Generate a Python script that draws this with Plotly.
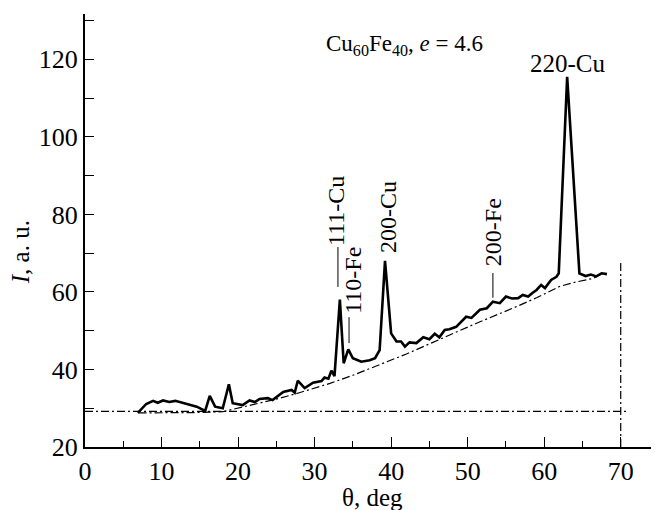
import plotly.graph_objects as go

# Measured diffraction curve
theta = [6.9, 8.0, 8.9, 9.5, 10.2, 11.0, 11.8, 12.5, 13.5, 14.6, 15.7, 16.3, 17.0, 18.0, 18.8, 19.3,
         20.6, 21.5, 22.2, 22.8, 23.9, 24.5, 25.9, 27.0, 27.4, 27.8, 28.7, 29.8, 30.9, 31.3, 31.8,
         32.2, 32.6, 33.3, 33.8, 34.4, 35.0, 36.1, 37.2, 37.9, 38.5, 39.2, 40.0, 40.7, 41.3, 41.8,
         42.4, 43.3, 44.2, 45.0, 45.7, 46.3, 47.0, 47.6, 48.5, 49.8, 50.5, 51.6, 52.5, 53.3, 54.2,
         55.0, 55.8, 56.6, 57.2, 57.9, 58.5, 59.0, 59.6, 60.1, 60.9, 61.6, 61.9, 63.0, 64.6, 65.4,
         66.1, 66.8, 67.5, 68.2]
intensity = [28.8, 31.1, 31.9, 31.4, 32.0, 31.6, 31.9, 31.5, 31.0, 30.4, 29.3, 33.2, 30.4, 30.0, 36.2, 31.3,
             30.8, 32.0, 31.6, 32.4, 32.6, 32.1, 34.2, 34.7, 34.0, 37.1, 35.2, 36.6, 37.0, 37.9, 37.6,
             39.7, 38.3, 58.0, 41.6, 45.2, 42.9, 42.0, 42.4, 42.9, 45.0, 68.0, 49.3, 47.2, 47.2, 45.9,
             47.0, 46.8, 48.3, 47.8, 49.2, 48.3, 50.2, 50.4, 51.0, 53.6, 53.3, 55.4, 55.8, 57.5, 57.1,
             58.8, 58.3, 58.4, 59.2, 58.8, 59.8, 60.5, 61.8, 61.0, 63.1, 63.9, 64.8, 115.5, 64.8, 64.1,
             64.5, 64.0, 64.8, 64.6]

# Background (dash-dot) curve
bg_theta = [7, 10, 15, 18, 20, 22.5, 25.5, 28, 32, 35, 38.5, 42, 47.2, 51, 55.9, 59, 62, 64, 66.4, 67.7]
bg_int = [28.8, 28.8, 28.9, 29.1, 30.0, 31.2, 32.6, 34.0, 36.4, 38.5, 41.2, 44.0, 48.5, 51.8, 55.8,
          58.5, 61.4, 62.5, 63.5, 64.9]

# Reference lines
hline_theta = [0, 70.8]
hline_int = [29.2, 29.2]
vline_theta = [70, 70]
vline_int = [20, 68]

# Peak labels: text, x, y
peak_labels = ["111-Cu", "110-Fe", "200-Cu", "200-Fe"]
peak_x = [32.8, 35.0, 39.5, 53.3]
peak_y = [80.9, 63.1, 79.4, 75.4]
# Leader lines: x, y0, y1
lead_x = [33.05, 34.5, 53.3]
lead_y0 = [61.3, 46.8, 58.5]
lead_y1 = [71.6, 53.5, 64.9]

FONT = "Liberation Serif"
FS = 24
TICK_FS = 26
dd = "8px,3px,2px,3px"

fig = go.Figure()
fig.add_trace(go.Scatter(x=hline_theta, y=hline_int, mode="lines",
                         line=dict(color="black", width=1.2, dash=dd), showlegend=False))
fig.add_trace(go.Scatter(x=vline_theta, y=vline_int, mode="lines",
                         line=dict(color="black", width=1.2, dash=dd), showlegend=False))
fig.add_trace(go.Scatter(x=bg_theta, y=bg_int, mode="lines",
                         line=dict(color="black", width=1.2, dash=dd), showlegend=False))
fig.add_trace(go.Scatter(x=theta, y=intensity, mode="lines",
                         line=dict(color="black", width=2.6), showlegend=False))

for lx, a, b in zip(lead_x, lead_y0, lead_y1):
    fig.add_shape(type="line", x0=lx, x1=lx, y0=a, y1=b, xref="x", yref="y",
                  line=dict(color="black", width=1))

for t, x, y in zip(peak_labels, peak_x, peak_y):
    fig.add_annotation(x=x, y=y, text=t, textangle=-90, showarrow=False,
                       font=dict(family=FONT, size=FS, color="black"))

fig.add_annotation(x=63.05, y=119.0, text="220-Cu", showarrow=False,
                   font=dict(family=FONT, size=25, color="black"))
fig.add_annotation(x=41.7, y=123.7, text="Cu<sub>60</sub>Fe<sub>40</sub>, <i>e</i> = 4.6",
                   showarrow=False, font=dict(family=FONT, size=23, color="black"))
fig.add_annotation(x=0.5, xref="paper", y=-0.1155, yref="paper", text="θ, deg",
                   showarrow=False, yanchor="middle",
                   font=dict(family=FONT, size=25, color="black"))
fig.add_annotation(x=-0.113, xref="paper", y=0.45, yref="paper", text="<i>I</i>, a. u.",
                   textangle=-90, showarrow=False, xanchor="center",
                   font=dict(family=FONT, size=25, color="black"))

yvals = list(range(20, 131, 10))
ytext = [str(v) if v % 20 == 0 else "" for v in yvals]

# Page body has an 8px margin: size figure so the plot area lands at the reference position
fig.update_layout(
    width=651, height=502,
    margin=dict(l=77, r=0, t=6, b=63),
    paper_bgcolor="white", plot_bgcolor="white",
    font=dict(family=FONT, size=FS, color="black"),
    xaxis=dict(range=[0, 75], showgrid=False, zeroline=False,
               showline=True, linecolor="black", linewidth=2,
               ticks="inside", ticklen=10, tickwidth=1.2, tickcolor="black",
               tickvals=list(range(0, 71, 10)),
               minor=dict(ticks="inside", ticklen=6, tickwidth=1.2, tickcolor="black",
                          tickvals=list(range(5, 76, 10))),
               tickfont=dict(family=FONT, size=TICK_FS)),
    yaxis=dict(range=[20, 131.7], showgrid=False, zeroline=False,
               showline=True, linecolor="black", linewidth=2,
               ticks="inside", ticklen=9, tickwidth=1.2, tickcolor="black",
               tickvals=yvals, ticktext=ytext,
               tickfont=dict(family=FONT, size=TICK_FS)),
)

fig.write_html("out.html")
